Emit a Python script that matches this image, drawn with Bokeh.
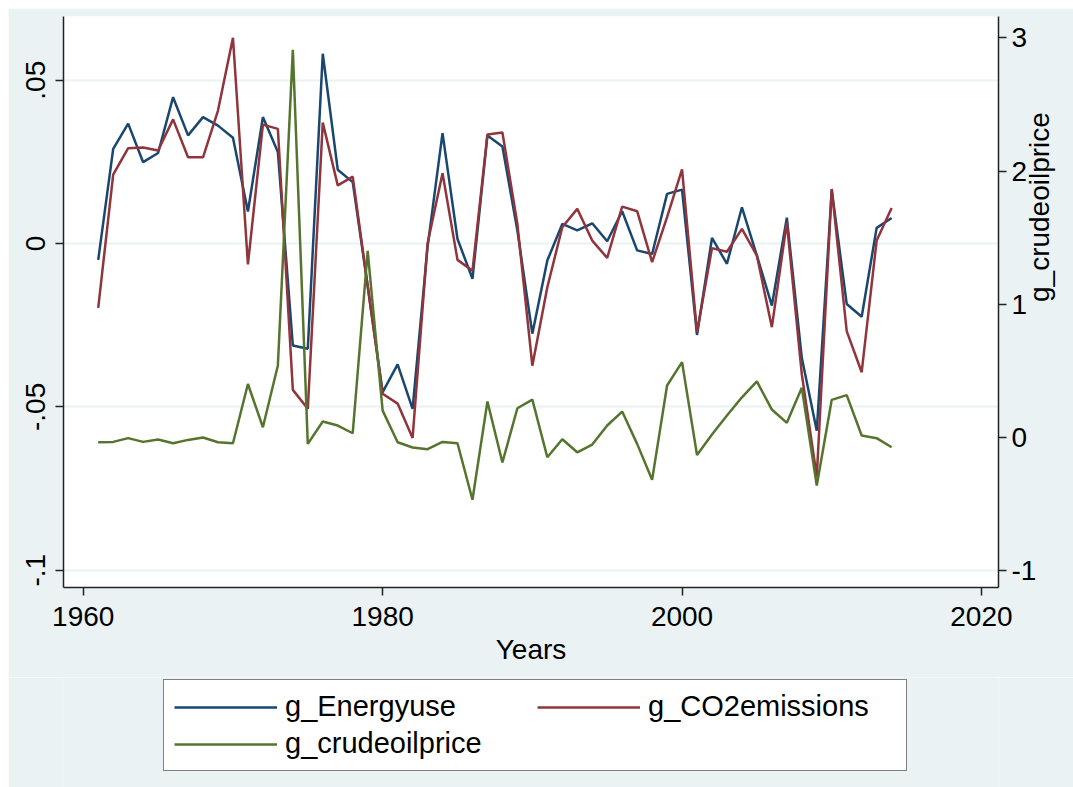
import math
from bokeh.plotting import figure
from bokeh.models import (Range1d, LinearAxis, FixedTicker, Legend, LegendItem, Spacer)
from bokeh.layouts import column, row
from bokeh.embed import file_html
from bokeh.resources import INLINE

years = list(range(1961, 2015))

g_energyuse = [-0.005, 0.029, 0.0367, 0.0249, 0.0277, 0.0448, 0.0331, 0.0387, 0.0361, 0.0324,
               0.0098, 0.0387, 0.028, -0.0312, -0.0322, 0.0581, 0.0226, 0.0188, -0.013, -0.0455,
               -0.037, -0.0506, -0.001, 0.0338, 0.0014, -0.0108, 0.0331, 0.0297, 0.004, -0.0276,
               -0.0052, 0.006, 0.004, 0.0062, 0.0007, 0.0099, -0.0021, -0.0032, 0.0152, 0.0165,
               -0.028, 0.0017, -0.0062, 0.0111, -0.0037, -0.019, 0.0079, -0.035, -0.0573, 0.0164,
               -0.0185, -0.0224, 0.0048, 0.0078]

g_co2emissions = [-0.0197, 0.0211, 0.0292, 0.0294, 0.0285, 0.038, 0.0264, 0.0264, 0.0407, 0.063,
                  -0.0064, 0.0364, 0.0351, -0.0448, -0.0506, 0.037, 0.0178, 0.0205, -0.013, -0.046,
                  -0.049, -0.0595, 0.0, 0.0215, -0.005, -0.0083, 0.0334, 0.034, 0.006, -0.0374,
                  -0.0134, 0.005, 0.0106, 0.0009, -0.0044, 0.0113, 0.0099, -0.0057, 0.0081, 0.0227,
                  -0.0272, -0.0014, -0.0025, 0.0045, -0.0037, -0.0256, 0.0065, -0.040, -0.0714, 0.0167,
                  -0.0268, -0.0394, 0.0009, 0.0109]

g_crudeoilprice = [-0.038, -0.035, -0.007, -0.035, -0.017, -0.045, -0.02, -0.002, -0.038, -0.045,
                   0.40, 0.075, 0.539, 2.91, -0.05, 0.118, 0.088, 0.03, 1.40, 0.20,
                   -0.038, -0.077, -0.09, -0.035, -0.045, -0.47, 0.268, -0.19, 0.218, 0.283,
                   -0.15, -0.015, -0.113, -0.055, 0.088, 0.193, -0.05, -0.32, 0.389, 0.564,
                   -0.133, 0.02, 0.163, 0.30, 0.419, 0.208, 0.108, 0.371, -0.363, 0.281,
                   0.316, 0.013, -0.007, -0.075]

series_names = ["g_Energyuse", "g_CO2emissions", "g_crudeoilprice"]

x_ticks = [1960, 1980, 2000, 2020]
left_ticks = [-0.1, -0.05, 0, 0.05]
left_labels = {-0.1: "-.1", -0.05: "-.05", 0: "0", 0.05: ".05"}
right_ticks = [-1, 0, 1, 2, 3]
right_labels = {-1: "-1", 0: "0", 1: "1", 2: "2", 3: "3"}

FONT = "Liberation Sans"
BG = "#EAF2F3"
NAVY = "#1A476F"
MAROON = "#90353B"
GREEN = "#55752F"
LW = 2.5

p = figure(width=1065, height=669, output_backend="svg", toolbar_location=None,
           x_range=Range1d(1958.68, 2021.14), y_range=Range1d(-0.1053, 0.0695),
           min_border_left=55, min_border_top=8, min_border_right=75, min_border_bottom=90)
p.extra_y_ranges = {"oil": Range1d(-1.129, 3.161)}

p.background_fill_color = "white"
p.border_fill_color = BG
p.outline_line_color = None

r1 = p.line(years, g_energyuse, line_color=NAVY, line_width=LW)
r2 = p.line(years, g_co2emissions, line_color=MAROON, line_width=LW)
r3 = p.line(years, g_crudeoilprice, line_color=GREEN, line_width=LW, y_range_name="oil")

def style_axis(ax):
    ax.axis_line_color = "#222222"
    ax.axis_line_width = 1.5
    ax.major_tick_line_color = "#222222"
    ax.major_tick_line_width = 1.5
    ax.major_tick_out = 8
    ax.major_tick_in = 0
    ax.minor_tick_line_color = None
    ax.major_label_text_font = FONT
    ax.major_label_text_font_size = "28px"
    ax.major_label_text_color = "black"
    ax.axis_label_text_font = FONT
    ax.axis_label_text_font_size = "28px"
    ax.axis_label_text_font_style = "normal"
    ax.axis_label_text_color = "black"

xa = p.xaxis[0]
xa.ticker = FixedTicker(ticks=x_ticks)
xa.axis_label = "Years"
style_axis(xa)
xa.major_label_standoff = 11
xa.axis_label_standoff = 5

ya = p.yaxis[0]
ya.ticker = FixedTicker(ticks=left_ticks)
ya.major_label_overrides = left_labels
ya.major_label_orientation = "vertical"
style_axis(ya)
ya.major_label_standoff = 10

ra = LinearAxis(y_range_name="oil", ticker=FixedTicker(ticks=right_ticks),
                axis_label="g_crudeoilprice")
style_axis(ra)
ra.major_label_overrides = right_labels
ra.major_label_standoff = 5
ra.axis_label_orientation = math.pi / 2
ra.axis_label_standoff = 0
p.add_layout(ra, "right")

p.xgrid.grid_line_color = None
p.ygrid.grid_line_color = BG
p.ygrid.grid_line_width = 2

# legend strip below the chart (its frame is aligned with the chart frame)
pl = figure(width=1065, height=110, output_backend="svg", toolbar_location=None,
            x_range=Range1d(0, 1), y_range=Range1d(0, 1),
            x_axis_location=None, y_axis_location=None,
            min_border=0, min_border_left=0, min_border_right=0,
            min_border_top=0, min_border_bottom=0)
pl.background_fill_color = BG
pl.border_fill_color = BG
pl.outline_line_color = None
pl.grid.visible = False
# same series, drawn outside this strip's ranges: only their legend keys show
k1 = pl.line(years, g_energyuse, line_color=NAVY, line_width=LW)
k2 = pl.line(years, g_co2emissions, line_color=MAROON, line_width=LW)
k3 = pl.line(years, g_crudeoilprice, line_color=GREEN, line_width=LW)

# column-major fill: col 1 = Energyuse, crudeoilprice; col 2 = CO2emissions
legend = Legend(items=[LegendItem(label=series_names[0], renderers=[k1]),
                       LegendItem(label=series_names[2], renderers=[k3]),
                       LegendItem(label=series_names[1], renderers=[k2])],
                ncols=2, location=(100, 16))
legend.label_text_font = FONT
legend.label_text_font_size = "29px"
legend.label_text_color = "black"
legend.glyph_width = 103
legend.glyph_height = 30
legend.label_height = 30
legend.label_width = 248
legend.label_standoff = 8
legend.spacing = 4
legend.padding = 10
legend.margin = 0
legend.border_line_color = "black"
legend.border_line_width = 1
legend.background_fill_color = "white"
legend.background_fill_alpha = 1
pl.add_layout(legend, "center")

layout = column(Spacer(height=8),
                row(Spacer(width=8), column(p, pl, spacing=0), spacing=0),
                spacing=0)

open("out.html", "w").write(file_html(layout, INLINE))
